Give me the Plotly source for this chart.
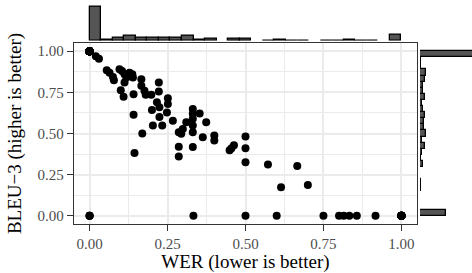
import numpy as np
import plotly.graph_objects as go

# Distinct (WER, BLEU-3) points, with how many sentences share each point
wer_vals = [0.0, 0.0, 1.0,
            0.02, 0.03, 0.055, 0.064, 0.075, 0.078, 0.096, 0.104, 0.112, 0.118,
            0.128, 0.137, 0.139, 0.112, 0.10, 0.109, 0.141, 0.166, 0.166, 0.176,
            0.18, 0.198, 0.222, 0.222, 0.216, 0.20, 0.141, 0.251, 0.251, 0.248,
            0.224, 0.224, 0.267, 0.203, 0.233, 0.169, 0.331, 0.331, 0.353, 0.331,
            0.31, 0.374, 0.331, 0.299, 0.286, 0.294, 0.331, 0.363, 0.40, 0.40,
            0.286, 0.331, 0.286, 0.144, 0.449, 0.455, 0.463, 0.5, 0.5, 0.5,
            0.572, 0.666, 0.614, 0.70,
            0.333, 0.5, 0.6, 0.75, 0.8, 0.815, 0.833, 0.857, 0.917]
bleu_vals = [1.0, 0.0, 0.0,
             0.97, 0.955, 0.884, 0.87, 0.843, 0.823, 0.89, 0.88, 0.86, 0.84,
             0.87, 0.86, 0.84, 0.81, 0.763, 0.723, 0.739, 0.83, 0.79, 0.76,
             0.735, 0.735, 0.81, 0.755, 0.69, 0.643, 0.614, 0.715, 0.68, 0.628,
             0.66, 0.6, 0.578, 0.548, 0.548, 0.50, 0.649, 0.62, 0.622, 0.59,
             0.568, 0.568, 0.548, 0.528, 0.508, 0.498, 0.508, 0.478, 0.488, 0.458,
             0.42, 0.418, 0.361, 0.381, 0.398, 0.41, 0.428, 0.482, 0.41, 0.325,
             0.311, 0.303, 0.173, 0.187,
             0.0, 0.0, 0.0, 0.0, 0.0, 0.0, 0.0, 0.0, 0.0]
n_sentences = [60, 3, 12] + [1] * (len(wer_vals) - 3)

wer = np.repeat(wer_vals, n_sentences)
bleu = np.repeat(bleu_vals, n_sentences)

tick_vals = [0, 0.25, 0.5, 0.75, 1.0]
tick_text = ["0.00", "0.25", "0.50", "0.75", "1.00"]

FONT = "Liberation Serif"
GRID = "#EBEBEB"
BORDER = "#333333"
BAR_FILL = "#555555"
bin_size = 1.0001 / 27

fig = go.Figure()
fig.add_trace(go.Scatter(x=wer, y=bleu, mode="markers",
                         marker=dict(color="black", size=8),
                         xaxis="x", yaxis="y", showlegend=False, hoverinfo="skip"))
fig.add_trace(go.Histogram(x=wer, xbins=dict(start=0, end=1.0001, size=bin_size),
                           marker=dict(color=BAR_FILL, line=dict(color="black", width=1.3)),
                           xaxis="x2", yaxis="y2", showlegend=False))
fig.add_trace(go.Histogram(y=bleu, ybins=dict(start=0, end=1.0001, size=bin_size),
                           marker=dict(color=BAR_FILL, line=dict(color="black", width=1.3)),
                           xaxis="x3", yaxis="y3", showlegend=False))

axis_common = dict(
    range=[-0.05, 1.05], tickvals=tick_vals, ticktext=tick_text,
    showline=True, mirror=True, linecolor=BORDER, linewidth=1.3,
    ticks="outside", ticklen=6, tickwidth=1.3, tickcolor=BORDER,
    showgrid=True, gridcolor=GRID, gridwidth=1.8, zeroline=False,
    minor=dict(dtick=0.125, tick0=0, showgrid=True, gridcolor=GRID, gridwidth=1.0, ticks=""),
    tickfont=dict(family=FONT, size=15, color="#4D4D4D"),
    automargin=False,
)

fig.update_layout(
    template="none",
    width=472, height=273,
    margin=dict(l=74, r=0, t=0, b=49, autoexpand=False),
    paper_bgcolor="white", plot_bgcolor="white",
    bargap=0,
    font=dict(family=FONT, color="black"),
    xaxis=dict(domain=[0, 0.8618], anchor="y",
               title=dict(text="WER (lower is better)", font=dict(family=FONT, size=19, color="black"), standoff=8),
               **axis_common),
    yaxis=dict(domain=[0, 0.808], anchor="x",
               title=dict(text="BLEU−3 (higher is better)", font=dict(family=FONT, size=19, color="black"), standoff=10),
               **axis_common),
    xaxis2=dict(domain=[0, 0.8618], anchor="y2", range=[-0.05, 1.05], visible=False),
    yaxis2=dict(domain=[0.818, 0.979], anchor="x2", range=[0, 68.25], visible=False),
    xaxis3=dict(domain=[0.8693, 1.0], anchor="y3", range=[0, 48.6], visible=False),
    yaxis3=dict(domain=[0, 0.808], anchor="x3", range=[-0.05, 1.05], visible=False),
)

fig.write_html("out.html", config={"displayModeBar": False},
               post_script="document.body.style.margin='0';")
